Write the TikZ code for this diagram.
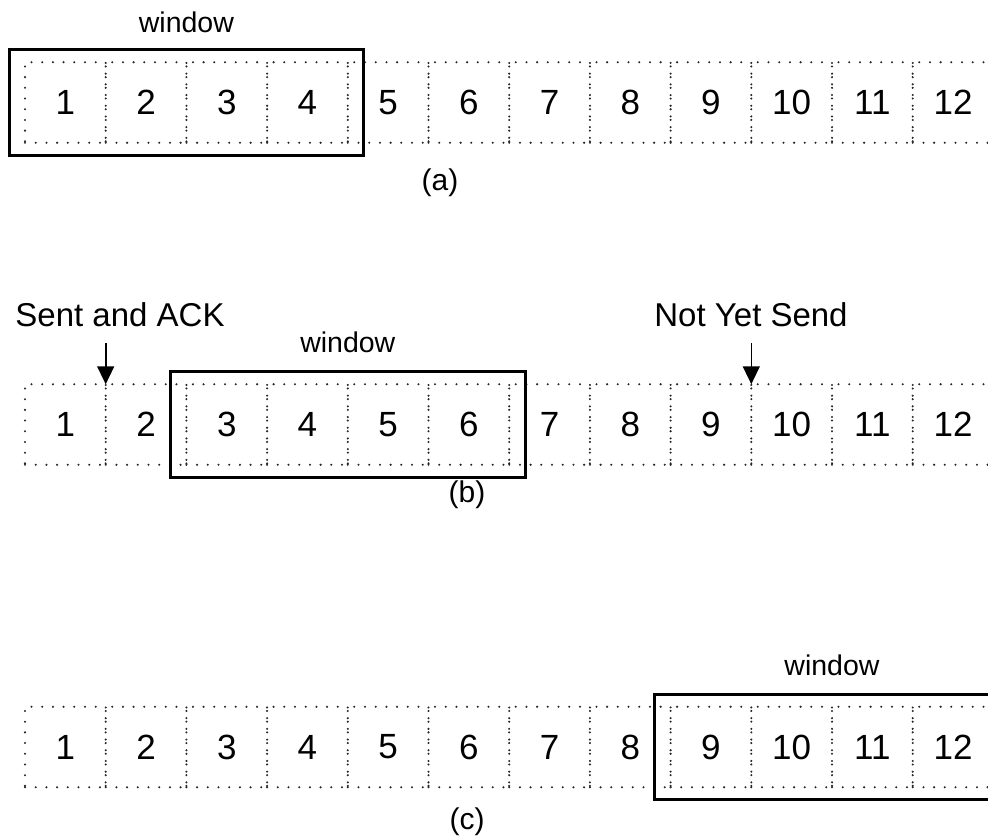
\documentclass[tikz,border=0pt]{standalone}
\usepackage{fontspec}
\setmainfont{Liberation Sans}
\usetikzlibrary{arrows.meta,fit,calc}
\begin{document}
\begin{tikzpicture}[x=1pt,y=-1pt,
  cell/.style={draw=black!85, line width=2.3pt, dash pattern=on 0pt off 10.7pt,
    line cap=round, minimum width=80.7pt, minimum height=80.5pt, inner sep=0pt,
    outer sep=0pt, font=\fontsize{35}{40}\selectfont, text=black},
  winbox/.style={draw=black, line width=3pt, inner xsep=16pt, inner ysep=12.5pt, outer sep=0pt},
  winlbl/.style={font=\fontsize{28.5}{32}\selectfont, inner sep=0pt},
  sublbl/.style={font=\fontsize{30}{34}\selectfont, inner sep=0pt},
  bigless/.style={font=\fontsize{33}{38}\selectfont, inner sep=0pt},
  arr/.style={line width=1.6pt, -{Triangle[width=17pt,length=18pt]}}
]
\useasboundingbox (0,0) rectangle (988,840);
\clip (0,0) rectangle (988,840);

% row (a)
\foreach \i in {1,...,12} \node[cell] (a\i) at ({65.35+80.7*(\i-1)},102.5) {\i};
\node[winbox, fit=(a1)(a4)] (wa) {};
\node[winlbl] (wla) at ($(wa.north)+(0,-27)$) {window};
\node[sublbl] (la) at (440,183) {(a)};

% row (b)
\foreach \i in {1,...,12} \node[cell] (b\i) at ({65.35+80.7*(\i-1)},424.5) {\i};
\node[winbox, fit=(b3)(b6)] (wb) {};
\node[winlbl] (wlb) at ($(wb.north)+(0,-29)$) {window};
\node[sublbl] (lb) at (467,495) {(b)};
\node[bigless] (sent) at (120,315) {Sent and ACK};
\node[bigless] (notyet) at (751,315) {Not Yet Send};
\coordinate (s1) at ($(b1.north east)+(0,-41)$);
\coordinate (s2) at ($(b9.north east)+(0,-41)$);
\draw[arr] (s1) -- (b1.north east);
\draw[arr] (s2) -- (b9.north east);

% row (c)
\foreach \i in {1,...,12} \node[cell] (c\i) at ({65.35+80.7*(\i-1)},747) {\i};
\node[winbox, fit=(c9)(c12)] (wc) {};
\node[winlbl] (wlc) at ($(wc.north)+(0,-29)$) {window};
\node[sublbl] (lc) at (467,822) {(c)};
\end{tikzpicture}
\end{document}
